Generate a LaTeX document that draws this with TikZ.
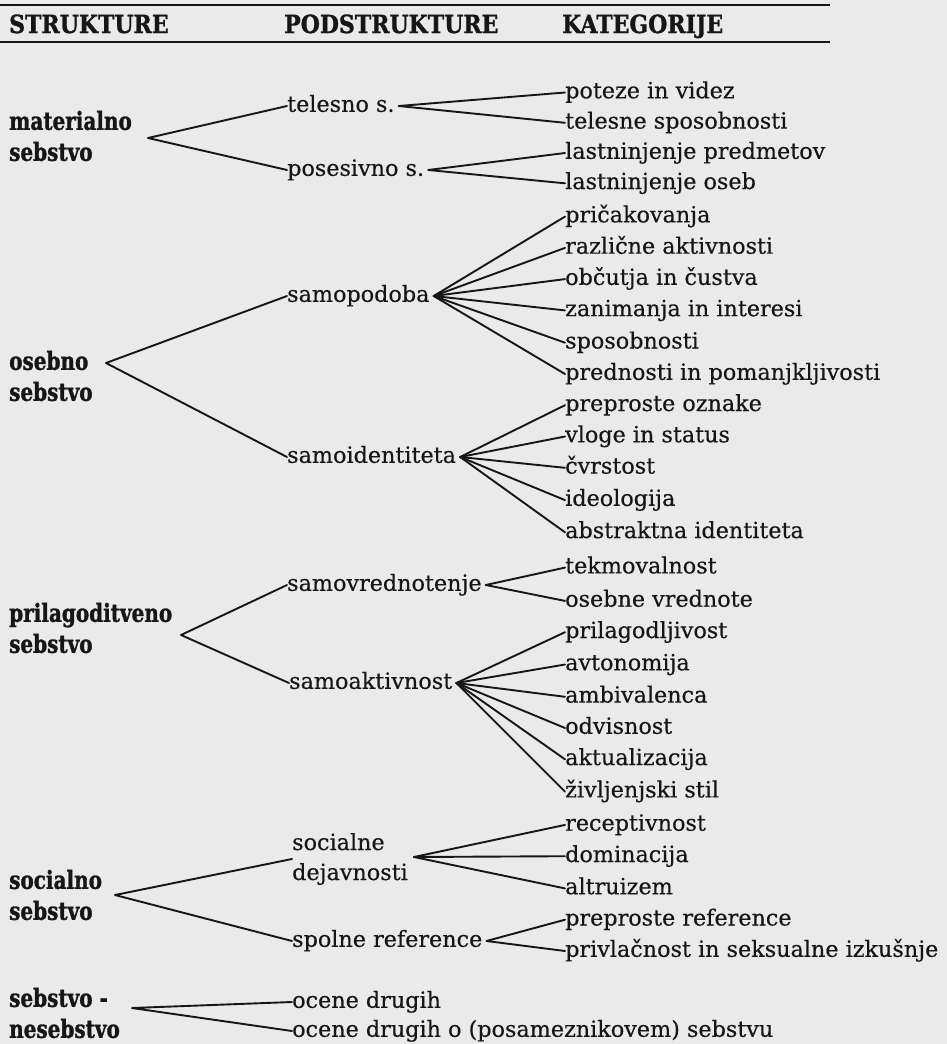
\documentclass[tikz,border=0pt]{standalone}
\usepackage{fontspec}
\setmainfont{DejaVu Serif}[UprightFeatures={FakeBold=0.4}]
\newfontfamily\heavyfont{DejaVu Serif}[BoldFeatures={FakeStretch=0.8,FakeBold=1.2}]
\newfontfamily\hdrfont{DejaVu Serif}[BoldFeatures={FakeStretch=0.88,FakeBold=1.2}]
\usetikzlibrary{calc}
\definecolor{paper}{RGB}{234,234,234}
\definecolor{ink}{RGB}{22,22,22}
\begin{document}
\begin{tikzpicture}[x=1pt,y=-1pt,
  cat/.style={anchor=west, inner sep=0pt, text height=11.6pt, text depth=0pt, font=\fontsize{22.3}{27}\selectfont, text=ink},
  sub/.style={cat},
  subtwo/.style={anchor=west, inner sep=0pt, align=left, font=\fontsize{22.3}{30}\selectfont, text=ink},
  str/.style={anchor=west, inner sep=0pt, align=left, font=\heavyfont\bfseries\fontsize{25}{31}\selectfont, text=ink},
  hdr/.style={anchor=base west, inner sep=0pt, font=\hdrfont\bfseries\fontsize{25}{28}\selectfont, text=ink},
  rule/.style={draw=ink, line width=1.6pt},
  con/.style={draw=ink, line width=1.9pt, line cap=round, line join=round}]
\fill[paper] (0,0) rectangle (947,1044);
\useasboundingbox (0,0) rectangle (947,1044);
% header
\draw[rule] (0,5) -- (830,5);
\draw[rule, line width=2pt] (0,42) -- (830,42);
\node[hdr] (h1) at (9,33) {STRUKTURE};
\node[hdr] (h2) at (284,33) {PODSTRUKTURE};
\node[hdr] (h3) at (562,33) {KATEGORIJE};
% structures
\node[str] (s1) at (9,136) {materialno\\sebstvo};
\node[str] (s2) at (9,376) {osebno\\sebstvo};
\node[str] (s3) at (9,628) {prilagoditveno\\sebstvo};
\node[str] (s4) at (9,895) {socialno\\sebstvo};
\node[str] (s5) at (9,1013) {sebstvo -\\nesebstvo};
\coordinate (t1) at (148,138);
\coordinate (t2) at (106,363);
\coordinate (t3) at (181,635);
\coordinate (t4) at (115,895);
\coordinate (t5) at (132,1008);
% substructures
\node[sub] (p1) at (287,106) {telesno s.};
\node[sub] (p2) at (287,170) {posesivno s.};
\node[sub] (p3) at (287,296) {samopodoba};
\node[sub] (p4) at (287,457) {samoidentiteta};
\node[sub] (p5) at (287,585) {samovrednotenje};
\node[sub] (p6) at (289,683) {samoaktivnost};
\node[subtwo] (p7) at (292,859) {socialne\\dejavnosti};
\node[sub] (p8) at (292,941) {spolne reference};
\node[sub] (p9) at (292,1002) {ocene drugih};
\node[sub] (p10) at (292,1031) {ocene drugih o (posameznikovem) sebstvu};
\foreach \i in {1,...,8} {\coordinate (q\i) at ($(p\i.east)+(4,0)$);}
\coordinate (q7) at ($(p7.east)+(6,-2)$);
% categories
\node[cat] (c1) at (565,92.5) {poteze in videz};
\node[cat] (c2) at (565,122.8) {telesne sposobnosti};
\node[cat] (c3) at (565,153) {lastninjenje predmetov};
\node[cat] (c4) at (565,183.3) {lastninjenje oseb};
\node[cat] (c5) at (565,216.6) {pričakovanja};
\node[cat] (c6) at (565,247.9) {različne aktivnosti};
\node[cat] (c7) at (565,279.1) {občutja in čustva};
\node[cat] (c8) at (565,310.4) {zanimanja in interesi};
\node[cat] (c9) at (565,342.7) {sposobnosti};
\node[cat] (c10) at (565,374) {prednosti in pomanjkljivosti};
\node[cat] (c11) at (565,405.2) {preproste oznake};
\node[cat] (c12) at (565,436.5) {vloge in status};
\node[cat] (c13) at (565,467.8) {čvrstost};
\node[cat] (c14) at (565,500.1) {ideologija};
\node[cat] (c15) at (565,532.3) {abstraktna identiteta};
\node[cat] (c16) at (565,567.6) {tekmovalnost};
\node[cat] (c17) at (565,600.9) {osebne vrednote};
\node[cat] (c18) at (565,632.2) {prilagodljivost};
\node[cat] (c19) at (565,664.5) {avtonomija};
\node[cat] (c20) at (565,696.8) {ambivalenca};
\node[cat] (c21) at (565,728) {odvisnost};
\node[cat] (c22) at (565,759.3) {aktualizacija};
\node[cat] (c23) at (565,791.6) {življenjski stil};
\node[cat] (c24) at (565,824.9) {receptivnost};
\node[cat] (c25) at (565,856.2) {dominacija};
\node[cat] (c26) at (565,888.4) {altruizem};
\node[cat] (c27) at (565,919.7) {preproste reference};
\node[cat] (c28) at (565,951) {privlačnost in seksualne izkušnje};
% connectors: structures -> substructures
\draw[con] (p1.west) -- (t1) -- (p2.west);
\draw[con] (p3.west) -- (t2) -- (p4.west);
\draw[con] (p5.west) -- (t3) -- (p6.west);
\draw[con] (p7.west) -- (t4) -- (p8.west);
\draw[con] (p9.west) -- (t5) -- (p10.west);
% substructures -> categories
\foreach \a/\b in {1/1,1/2,2/3,2/4,3/5,3/6,3/7,3/8,3/9,3/10,4/11,4/12,4/13,4/14,4/15,5/16,5/17,6/18,6/19,6/20,6/21,6/22,6/23,7/24,7/25,7/26,8/27,8/28}
  {\draw[con] (q\a) -- (c\b.west);}
\end{tikzpicture}
\end{document}
